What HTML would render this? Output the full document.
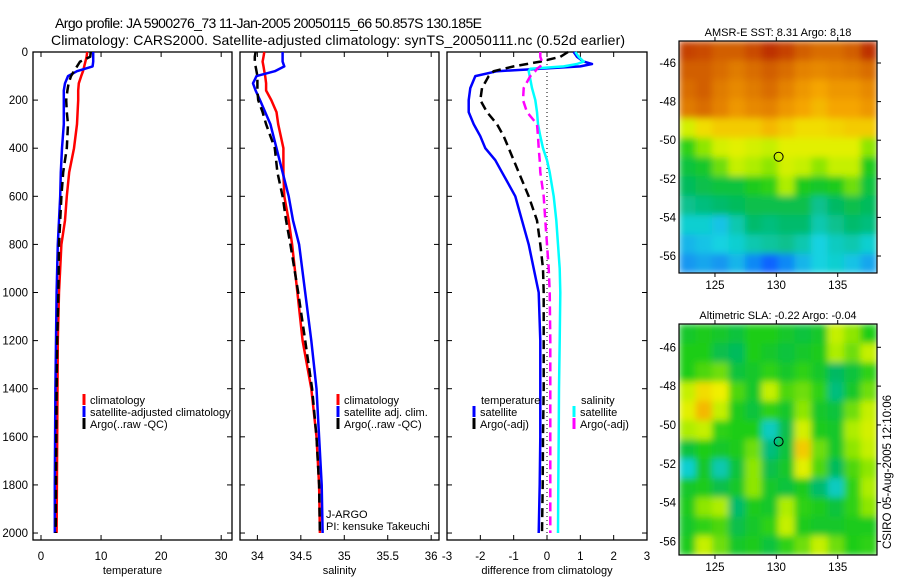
<!DOCTYPE html>
<html><head><meta charset="utf-8"><style>
html,body{margin:0;padding:0;background:#fff;}
svg{display:block;font-family:"Liberation Sans",sans-serif;}
</style></head><body>
<svg id="fig" width="900" height="580" viewBox="0 0 900 580" xmlns="http://www.w3.org/2000/svg">
<defs>
<filter id="bl" x="0" y="0" width="1" height="1"><feGaussianBlur stdDeviation="3.5" edgeMode="duplicate"/></filter>
<clipPath id="c1"><rect x="679" y="41" width="198" height="232"/></clipPath>
<clipPath id="c2"><rect x="679" y="324" width="198" height="231"/></clipPath>
</defs>
<text x="55" y="28" font-size="14" textLength="427">Argo profile: JA 5900276_73 11-Jan-2005 20050115_66 50.857S 130.185E</text>
<text x="51" y="45" font-size="14" textLength="574">Climatology: CARS2000. Satellite-adjusted climatology: synTS_20050111.nc (0.52d earlier)</text>
<g id="plots"></g>
<g id="maps"></g>
</svg>
<script>
// ---- profile data ----
const depthTS = [0,20,40,60,80,100,130,160,200,250,300,400,500,600,700,800,1000,1200,1400,1600,1800,2000];
const tClim = [7.7,7.6,7.4,7.2,7.0,6.7,6.3,6.2,6.2,6.1,6.0,5.5,4.7,4.3,4.0,3.4,3.0,2.8,2.75,2.7,2.65,2.6];
const tSat  = [8.7,8.7,8.7,8.6,6.0,4.5,4.0,3.8,3.8,3.8,3.8,3.5,3.3,3.2,3.0,2.8,2.6,2.5,2.4,2.35,2.3,2.3];
const tArgo = [8.3,8.2,6.5,6.0,5.5,5.0,4.6,4.4,4.2,4.3,4.5,4.3,3.7,3.4,3.2,3.0,2.9,2.7,2.6,2.55,2.5,2.45];
const sClim = [34.08,34.07,34.06,34.07,34.08,34.09,34.10,34.10,34.16,34.22,34.24,34.30,34.30,34.31,34.36,34.40,34.46,34.52,34.62,34.68,34.71,34.72];
const sSat  = [34.29,34.29,34.29,34.31,34.20,33.99,33.95,33.98,34.03,34.09,34.15,34.22,34.29,34.36,34.41,34.48,34.55,34.62,34.68,34.71,34.74,34.75];
const sArgo = [33.98,33.97,33.97,33.98,33.99,34.00,34.00,34.00,34.01,34.06,34.10,34.20,34.23,34.29,34.33,34.38,34.47,34.55,34.63,34.68,34.71,34.72];
const depthD = [0,20,40,50,60,70,80,100,150,200,250,300,350,400,450,500,550,600,700,800,900,1000,1200,1400,1600,1800,2000];
const dTSat  = [0.8,0.9,1.1,1.35,1.0,-0.2,-1.5,-2.15,-2.3,-2.35,-2.35,-2.2,-2.0,-1.85,-1.55,-1.35,-1.15,-0.95,-0.75,-0.55,-0.4,-0.25,-0.2,-0.2,-0.2,-0.22,-0.25];
const dTArgo = [0.63,0.4,-0.2,-0.6,-1.0,-1.3,-1.6,-1.75,-1.95,-2.0,-1.8,-1.5,-1.3,-1.15,-1.0,-0.85,-0.7,-0.55,-0.3,-0.2,-0.12,-0.1,-0.1,-0.1,-0.12,-0.13,-0.15];
const dSSat  = [0.85,0.95,1.1,0.9,0.5,-0.5,-0.55,-0.52,-0.45,-0.35,-0.3,-0.27,-0.2,-0.12,0.0,0.08,0.14,0.2,0.28,0.33,0.38,0.4,0.38,0.36,0.35,0.34,0.33];
const dSArgo = [-0.2,-0.2,-0.15,-0.15,-0.2,-0.3,-0.35,-0.5,-0.7,-0.72,-0.6,-0.3,-0.27,-0.25,-0.22,-0.2,-0.15,-0.1,-0.05,0.0,0.05,0.08,0.1,0.1,0.1,0.1,0.1];
const depthTicks = [0,200,400,600,800,1000,1200,1400,1600,1800,2000];
const tTicks = [0,10,20,30];
const sTicks = [34,34.5,35,35.5,36];
const dTicks = [-3,-2,-1,0,1,2,3];
// ---- map data (normalised colour values, rows north->south) ----
const sstGrid = [
[.93,.92,.90,.90,.92,.95,.93,.90,.88,.88,.90,.95],
[.90,.90,.88,.86,.88,.90,.88,.85,.84,.85,.86,.88],
[.88,.90,.86,.84,.86,.88,.85,.82,.80,.82,.82,.84],
[.86,.88,.85,.82,.84,.85,.82,.80,.78,.80,.80,.82],
[.68,.74,.76,.76,.76,.78,.76,.74,.74,.75,.76,.76],
[.56,.62,.68,.70,.68,.66,.70,.70,.70,.70,.70,.62],
[.50,.52,.60,.66,.64,.62,.68,.66,.62,.66,.66,.54],
[.46,.48,.50,.50,.54,.56,.64,.54,.52,.54,.60,.50],
[.40,.42,.44,.46,.48,.48,.48,.48,.40,.45,.48,.46],
[.32,.32,.28,.36,.44,.42,.44,.44,.36,.40,.44,.42],
[.26,.28,.30,.32,.36,.38,.40,.36,.30,.34,.36,.32],
[.22,.24,.22,.26,.20,.15,.20,.26,.30,.32,.28,.24]];
const slaGrid = [
[.52,.54,.52,.50,.55,.55,.52,.50,.52,.66,.62,.55],
[.55,.55,.48,.46,.55,.52,.50,.52,.54,.64,.60,.66],
[.55,.58,.60,.50,.52,.56,.52,.56,.52,.45,.50,.56],
[.66,.74,.72,.58,.52,.66,.58,.60,.56,.42,.52,.60],
[.70,.78,.66,.54,.50,.56,.52,.62,.52,.50,.60,.66],
[.64,.66,.56,.55,.55,.34,.48,.68,.54,.52,.64,.68],
[.50,.55,.52,.54,.60,.42,.50,.76,.60,.52,.62,.66],
[.32,.52,.36,.50,.62,.48,.52,.70,.58,.46,.58,.62],
[.52,.54,.48,.52,.62,.52,.50,.54,.44,.34,.56,.64],
[.54,.62,.64,.44,.54,.52,.64,.56,.54,.50,.56,.62],
[.52,.56,.58,.48,.52,.56,.66,.54,.52,.52,.54,.54],
[.54,.66,.60,.52,.54,.50,.56,.60,.66,.60,.55,.56]];
const lonTicks = [125,130,135];
const latTicks = [-46,-48,-50,-52,-54,-56];
const argoLon = 130.185, argoLat = -50.857;

const NS="http://www.w3.org/2000/svg";
function mk(tag, attrs, parent){const e=document.createElementNS(NS,tag);for(const k in attrs)e.setAttribute(k,attrs[k]);parent.appendChild(e);return e;}
const plots=document.getElementById('plots');
const Y0=52, Y1=540, DMAX=2029;
const yS=d=>Y0+(d/DMAX)*(Y1-Y0);

function panel(name,x0,x1,xmin,xmax,xt,xlabel,yLabels){
  const g=mk('g',{},plots);
  
  
  const xs=v=>x0+(v-xmin)/(xmax-xmin)*(x1-x0);
  const fr=mk('rect',{x:x0,y:Y0,width:x1-x0,height:Y1-Y0,fill:'none',stroke:'#000','stroke-width':1.3},g);
  
  
  xt.forEach(v=>{const x=xs(v);
    mk('line',{x1:x,x2:x,y1:Y1,y2:Y1-5,stroke:'#000'},g);
    mk('line',{x1:x,x2:x,y1:Y0,y2:Y0+5,stroke:'#000'},g);
    const t=mk('text',{x:x,y:560,'font-size':11.5,'text-anchor':'middle'},g);
    t.textContent=String(v);
    
    
  });
  depthTicks.forEach(d=>{const y=yS(d);
    mk('line',{x1:x0,x2:x0+5,y1:y,y2:y,stroke:'#000'},g);
    mk('line',{x1:x1,x2:x1-5,y1:y,y2:y,stroke:'#000'},g);
    if(yLabels){const t=mk('text',{x:28,y:y+4,'font-size':11.5,'text-anchor':'end'},g);
      t.textContent=String(d);
      
      }
  });
  const xl=mk('text',{x:(x0+x1)/2,y:574,'font-size':11,'text-anchor':'middle'},g);
  xl.textContent=xlabel;
  
  
  return {g,xs};
}
function series(p,name,depths,vals,color,dash){
  const pts=vals.map((v,i)=>p.xs(v).toFixed(1)+','+yS(depths[i]).toFixed(1)).join(' ');
  const l=mk('polyline',{points:pts,fill:'none',stroke:color,'stroke-width':2.5,'stroke-linejoin':'round'},p.g);
  if(dash)l.setAttribute('stroke-dasharray',dash);
  
  
}
function legend(g,x,y,color,label,name){
  mk('line',{x1:x,x2:x,y1:y-10,y2:y+1,stroke:color,'stroke-width':3},g);
  const t=mk('text',{x:x+6,y:y,'font-size':11},g);
  t.textContent=label;
  
  
}

const p1=panel('temperature',33,232,-1.33,31.8,tTicks,'temperature',true);
series(p1,'temp-climatology-line',depthTS,tClim,'#f00');
series(p1,'temp-satellite-adjusted-line',depthTS,tSat,'#00f');
series(p1,'temp-argo-line',depthTS,tArgo,'#000','9,5');
legend(p1.g,84,404,'#f00','climatology','legend-climatology');
legend(p1.g,84,416,'#00f','satellite-adjusted climatology','legend-satellite-adjusted');
legend(p1.g,84,428,'#000','Argo(..raw -QC)','legend-argo');

const p2=panel('salinity',240,439,33.8,36.09,sTicks,'salinity',false);
series(p2,'sal-climatology-line',depthTS,sClim,'#f00');
series(p2,'sal-satellite-adjusted-line',depthTS,sSat,'#00f');
series(p2,'sal-argo-line',depthTS,sArgo,'#000','9,5');
legend(p2.g,338,404,'#f00','climatology','legend-sal-climatology');
legend(p2.g,338,416,'#00f','satellite adj. clim.','legend-sal-satellite');
legend(p2.g,338,428,'#000','Argo(..raw -QC)','legend-sal-argo');
let t=mk('text',{x:326,y:518,'font-size':11},p2.g);t.textContent='J-ARGO';


t=mk('text',{x:326,y:530,'font-size':11},p2.g);t.textContent='PI: kensuke Takeuchi';



const p3=panel('difference',447,647,-3,3,dTicks,'difference from climatology',false);
const zl=mk('line',{x1:p3.xs(0),x2:p3.xs(0),y1:Y0,y2:Y1,stroke:'#000','stroke-dasharray':'1,3'},p3.g);


series(p3,'diff-temp-satellite-line',depthD,dTSat,'#00f');
series(p3,'diff-temp-argo-line',depthD,dTArgo,'#000','9,5');
series(p3,'diff-sal-satellite-line',depthD,dSSat,'#0ff');
series(p3,'diff-sal-argo-line',depthD,dSArgo,'#f0f','9,5');
t=mk('text',{x:481,y:404,'font-size':11},p3.g);t.textContent='temperature';


legend(p3.g,474,416,'#00f','satellite','legend-diff-temp-satellite');
legend(p3.g,474,428,'#000','Argo(-adj)','legend-diff-temp-argo');
t=mk('text',{x:581,y:404,'font-size':11},p3.g);t.textContent='salinity';


legend(p3.g,574,416,'#0ff','satellite','legend-diff-sal-satellite');
legend(p3.g,574,428,'#f0f','Argo(-adj)','legend-diff-sal-argo');

// ---- maps ----
const stops=[[0,[0,20,170]],[0.15,[16,100,255]],[0.3,[20,210,225]],[0.45,[0,185,100]],[0.55,[30,205,20]],[0.65,[190,240,0]],[0.72,[240,240,0]],[0.8,[245,165,0]],[0.9,[210,95,0]],[1,[170,0,0]]];
function cmap(v){v=Math.max(0,Math.min(1,v));for(let i=1;i<stops.length;i++){if(v<=stops[i][0]){const a=stops[i-1],b=stops[i];const f=(v-a[0])/(b[0]-a[0]);return 'rgb('+a[1].map((c,k)=>Math.round(c+(b[1][k]-c)*f)).join(',')+')';}}return 'rgb(170,0,0)';}
const maps=document.getElementById('maps');
const LON0=122.07,LON1=138.2;
function mapPanel(name,top,bot,latTop,latBot,grid,title,clip){
  const g=mk('g',{},maps);
  
  
  const xs=l=>679+(l-LON0)/(LON1-LON0)*198;
  const ys=l=>top+(latTop-l)/(latTop-latBot)*(bot-top);
  const cg=mk('g',{'clip-path':'url(#'+clip+')'},g);
  const hg=mk('g',{filter:'url(#bl)'},cg);
  const nr=grid.length,nc=grid[0].length;
  const dLon=(LON1-LON0)/nc,dLat=(latTop-latBot)/nr;
  grid.forEach((row,r)=>row.forEach((v,c)=>{
    const x=xs(LON0+c*dLon),y=ys(latTop-r*dLat);
    const cell=mk('rect',{x:x.toFixed(1),y:y.toFixed(1),width:(xs(LON0+(c+1)*dLon)-x+0.6).toFixed(1),height:(ys(latTop-(r+1)*dLat)-y+0.6).toFixed(1),fill:cmap(v)},hg);
    
    
  }));
  mk('rect',{x:679,y:top,width:198,height:bot-top,fill:'none',stroke:'#000','stroke-width':1.2},g);
  lonTicks.forEach(l=>{const x=xs(l);
    mk('line',{x1:x,x2:x,y1:top,y2:top-4,stroke:'#000'},g);
    mk('line',{x1:x,x2:x,y1:bot,y2:bot+4,stroke:'#000'},g);
    const tt=mk('text',{x:x,y:bot+16,'font-size':11.5,'text-anchor':'middle'},g);tt.textContent=String(l);
    
    
  });
  latTicks.forEach(l=>{const y=ys(l);
    mk('line',{x1:877,x2:881,y1:y,y2:y,stroke:'#000'},g);
    const tt=mk('text',{x:676,y:y+4,'font-size':11.5,'text-anchor':'end'},g);tt.textContent=String(l);
    
    
  });
  const tt=mk('text',{x:778,y:top-5,'font-size':11,'text-anchor':'middle'},g);tt.textContent=title;
  
  
  const m=mk('circle',{cx:xs(argoLon),cy:ys(argoLat),r:4.5,fill:'none',stroke:'#000','stroke-width':1},g);
  
  
}
mapPanel('sst-map',41,273,-44.86,-56.88,sstGrid,'AMSR-E SST: 8.31 Argo: 8.18','c1');
mapPanel('sla-map',324,555,-44.8,-56.7,slaGrid,'Altimetric SLA: -0.22 Argo: -0.04','c2');
const cr=mk('text',{x:0,y:0,'font-size':11.5,'text-anchor':'middle',transform:'translate(891,472) rotate(-90)'},maps);
cr.textContent='CSIRO 05-Aug-2005 12:10:06';


</script>
</body></html>
